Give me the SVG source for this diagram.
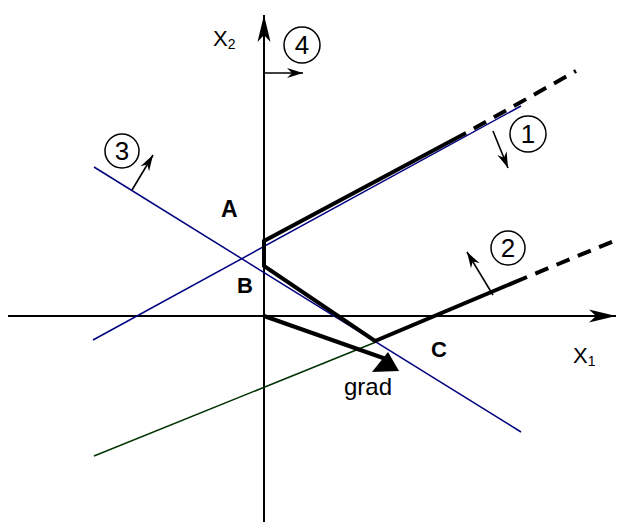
<svg xmlns="http://www.w3.org/2000/svg" width="618" height="523" viewBox="0 0 618 523">
<style>
.ax{stroke:#000;stroke-width:2;fill:none}
.thick{stroke:#000;stroke-width:4;fill:none}
.dash{stroke:#000;stroke-width:4;fill:none;stroke-dasharray:14 9;stroke-dashoffset:14}
.blue{stroke:#000080;stroke-width:1.5;fill:none}
.green{stroke:#003300;stroke-width:1.5;fill:none}
.thin{stroke:#000;stroke-width:1.6;fill:none}
.circ{stroke:#000;stroke-width:1.5;fill:none}
.t{font-family:"Liberation Sans",Arial,sans-serif;fill:#000}
.b{font-weight:bold}
.num{font-size:26px;text-anchor:middle}
</style>
<defs>
<marker id="bigHead" markerUnits="userSpaceOnUse" markerWidth="30" markerHeight="20" viewBox="-28 -8 30 16" refX="0" refY="0" orient="auto">
<path d="M0,0 L-27,-6.5 L-20,0 L-27,6.5 Z" fill="#000"/>
</marker>
<marker id="smallHead" markerUnits="userSpaceOnUse" markerWidth="20" markerHeight="14" viewBox="-18 -6 20 12" refX="0" refY="0" orient="auto">
<path d="M0,0 L-16,-5 L-11,0 L-16,5 Z" fill="#000"/>
</marker>
</defs>
<g id="axes">
<line class="ax" x1="264" y1="522" x2="264" y2="15" marker-end="url(#bigHead)"/>
<line class="ax" x1="8" y1="316" x2="616" y2="316" marker-end="url(#bigHead)"/>
</g>
<g id="constraint-lines">
<line class="blue" x1="93" y1="340" x2="521" y2="106"/>
<line class="blue" x1="94" y1="167" x2="521" y2="432"/>
<line class="green" x1="94" y1="456" x2="376" y2="342"/>
</g>
<g id="connectors">
<polyline class="thick" points="466,133 264,241 264,266 375,341 527,277" stroke-linejoin="miter"/>
<line class="dash" x1="466" y1="133" x2="576" y2="71"/>
<line class="dash" x1="527" y1="277" x2="614" y2="241"/>
<line class="thick" x1="264" y1="316" x2="386" y2="359"/>
<polygon points="399,371 372,372 388,352" fill="#000"/>
<line class="thin" x1="264" y1="73" x2="303" y2="73" marker-end="url(#smallHead)"/>
<line class="thin" x1="493" y1="131" x2="508" y2="168" marker-end="url(#smallHead)"/>
<line class="thin" x1="132" y1="190" x2="153" y2="155" marker-end="url(#smallHead)"/>
<line class="thin" x1="493" y1="295" x2="467" y2="252" marker-end="url(#smallHead)"/>
</g>
<g id="label-x2"><text class="t" x="213" y="46" font-size="22">X<tspan font-size="14" dy="3">2</tspan></text></g>
<g id="label-x1"><text class="t" x="573" y="363" font-size="22">X<tspan font-size="14" dy="3">1</tspan></text></g>
<g id="point-A"><text class="t b" x="221" y="217" font-size="23">A</text></g>
<g id="point-B"><text class="t b" x="237" y="293" font-size="22">B</text></g>
<g id="point-C"><text class="t b" x="431" y="357" font-size="22">C</text></g>
<g id="label-grad"><text class="t" x="344" y="395" font-size="24">grad</text></g>
<g id="c1"><circle class="circ" cx="528" cy="134" r="18"/><text class="t num" x="528" y="143">1</text></g>
<g id="c2"><circle class="circ" cx="508" cy="248" r="17"/><text class="t num" x="508" y="257">2</text></g>
<g id="c3"><circle class="circ" cx="122" cy="151" r="17"/><text class="t num" x="122" y="160">3</text></g>
<g id="c4"><circle class="circ" cx="302" cy="45" r="18"/><text class="t num" x="302" y="54">4</text></g>
</svg>
